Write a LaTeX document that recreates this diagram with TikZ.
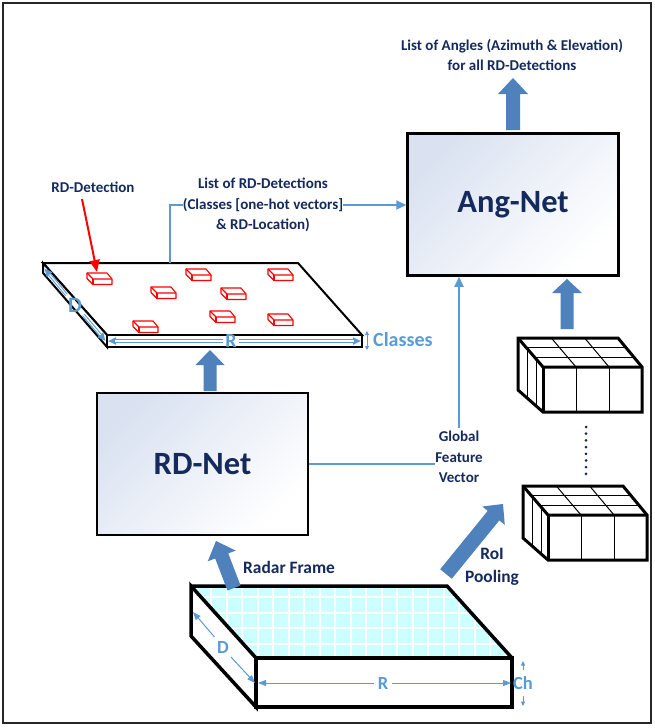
\documentclass[tikz,border=0pt]{standalone}
\usepackage{fontspec}
\setmainfont{Carlito}
\usetikzlibrary{arrows.meta,calc}
\definecolor{navy}{HTML}{142A5C}
\definecolor{blockblue}{HTML}{4F81BD}
\definecolor{lb}{HTML}{5B9BD5}
\definecolor{cyanfill}{HTML}{CCFFFF}
\definecolor{boxbg}{HTML}{DAE2F1}
% block arrow: tail, tip, half shaft, half head, head length
\newcommand\blockarr[5]{%
  \path ($(#2)!#5!(#1)$) coordinate (babase);
  \fill[blockblue]
    ($(#1)!#3!90:(#2)$) -- ($(babase)!#3!90:(#2)$) -- ($(babase)!#4!90:(#2)$)
    -- (#2) -- ($(babase)!#4!-90:(#2)$) -- ($(babase)!#3!-90:(#2)$)
    -- ($(#1)!#3!-90:(#2)$) -- cycle;}
\newcommand\featcube[2]{%
 \begin{scope}[shift={(#1,#2)}]
  \fill[white] (0,0) -- (100,0) -- (124,29) -- (124,74) -- (25,74) -- (0,52) -- cycle;
  \foreach \t in {0.3333,0.6667} {
    \draw[line width=1pt] (25*\t,29*\t) -- (100+24*\t,29*\t);
    \draw[line width=1pt] (100*\t,0) -- (25+99*\t,29);
    \draw[line width=1pt] (25+99*\t,29) -- (25+99*\t,74);
  }
  \foreach \t in {0.36,0.72} \draw[line width=1pt] (25*\t,29*\t) -- (25*\t,52+22*\t);
  \draw[line width=3pt] (0,0) -- (100,0) -- (124,29) -- (124,74) -- (25,74) -- (0,52) -- cycle;
  \draw[line width=3pt] (0,0) -- (25,29) -- (124,29);
  \draw[line width=3pt] (25,29) -- (25,74);
 \end{scope}}
\newcommand\redbox[2]{%
 \begin{scope}[shift={(#1,#2)}, color=red, line width=1.1pt, line join=round]
  \filldraw[fill=white] (0,0) -- (20,0) -- (25,6) -- (25,11.5) -- (6,11.5) -- (0,5.5) -- cycle;
  \draw (0,0) -- (6,6) -- (25,6);
  \draw (6,6) -- (6,11.5);
 \end{scope}}
\begin{document}
\begin{tikzpicture}[x=1pt,y=-1pt,
  netbox/.style={draw=black, line width=2.5pt, top color=boxbg, bottom color=white, shading angle=45, text=navy, font=\bfseries\fontsize{32.5}{36}\selectfont, inner sep=0pt},
  lbl/.style={text=navy, font=\bfseries\fontsize{15}{20.5}\selectfont, inner sep=0pt, align=center},
  biglbl/.style={text=navy, font=\bfseries\fontsize{17.4}{23}\selectfont, inner sep=0pt, align=center},
  dimlbl/.style={text=lb, font=\bfseries\fontsize{20}{22}\selectfont, inner sep=0pt},
  smalldim/.style={text=lb, font=\bfseries\fontsize{18.5}{20}\selectfont, inner sep=0pt},
  conn/.style={draw=lb, line width=2pt},
  connarrow/.style={conn, -{Triangle[width=9pt,length=10pt]}},
  dblblue/.style={draw=lb, line width=3.2pt},
  dblwhite/.style={draw=white, line width=1.1pt},
  thinarrow/.style={draw=lb, line width=1pt},
  slabline/.style={draw=black, line width=2pt},
  thickslab/.style={draw=black, line width=3.5pt},
]
\fill[white] (0,0) rectangle (654,728);
\useasboundingbox (0,0) rectangle (654,728);
\draw[line width=1.6pt, black!85] (3,3) rectangle (651,723);

% ---------- networks ----------
\node[netbox, minimum width=211pt, minimum height=142pt] (angnet) at (513,204.5) {Ang-Net};
\node[netbox, minimum width=211pt, minimum height=142pt] (rdnet) at (202.5,464) {RD-Net};

% ---------- labels ----------
\node[lbl] (angles) at (512,55) {List of Angles (Azimuth \& Elevation)\\for all RD-Detections};
\node[lbl] (rdlist) at (263,205) {List of RD-Detections\\(Classes [one-hot vectors]\\\& RD-Location)};
\node[lbl] (rddet) at (93,187) {RD-Detection};
\node[lbl] (gfv) at (459,457) {Global\\Feature\\Vector};
\node[biglbl, anchor=west] (rflabel) at (243,567) {Radar Frame};
\node[biglbl] (roi) at (492,566.5) {RoI\\Pooling};

% ---------- top slab (RD detections) ----------
\draw[slabline, fill=white] (43,263) -- (298,263) -- (362,335) -- (107,335) -- cycle;
\draw[slabline, fill=white] (43,263) -- (43,273) -- (107,347) -- (107,335) -- cycle;
\draw[slabline, fill=white] (107,335) -- (362,335) -- (362,347) -- (107,347) -- cycle;
\coordinate (slabtap) at (170,263);
\redbox{87}{273}
\redbox{186}{269}
\redbox{268}{269}
\redbox{151}{287}
\redbox{221}{288}
\redbox{210}{311}
\redbox{268}{314}
\redbox{133}{321}
% D on top slab
\draw[dblblue, {Triangle[width=7pt,length=8pt]}-] (44.5,268.5) -- (66.5,295);
\draw[dblwhite] (49.5,274.5) -- (66.5,295);
\draw[dblblue, -{Triangle[width=7pt,length=8pt]}] (83.5,315) -- (105.5,341);
\draw[dblwhite] (83.5,315) -- (100.5,335);
\node[dimlbl, font=\bfseries\fontsize{22}{24}\selectfont] (dtop) at (75,305) {D};
% R on top slab
\draw[dblblue, {Triangle[width=7pt,length=8pt]}-] (108,341) -- (223,341);
\draw[dblwhite] (115,341) -- (223,341);
\draw[dblblue, -{Triangle[width=7pt,length=8pt]}] (239,341) -- (361,341);
\draw[dblwhite] (239,341) -- (354,341);
\node[dimlbl] (rtop) at (231,341) {R};
% Classes
\node[dimlbl, anchor=west] (classes) at (373,340) {Classes};
\draw[thinarrow, {Triangle[width=4pt,length=4pt]}-{Triangle[width=4pt,length=4pt]}] (367,331) -- (367,350);

% red arrow
\coordinate (redstart) at (82,199);
\coordinate (redtip) at (97,272);
\draw[red, line width=2pt, -{Triangle[width=10pt,length=12pt]}] (redstart) -- (redtip);

% connectors
\draw[conn] (slabtap) |- (rdlist.west);
\draw[connarrow] (rdlist.east) -- (rdlist.east -| angnet.west);
\draw[conn] (rdnet.east) -- (rdnet.east -| gfv.west);
\draw[connarrow] (gfv.north) ++(0,-3) -- (gfv.north |- angnet.south);

% ---------- bottom slab (radar frame) ----------
\fill[cyanfill] (191,586) -- (447,586) -- (512,658) -- (256,658) -- cycle;
\begin{scope}
  \clip (191,586) -- (447,586) -- (512,658) -- (256,658) -- cycle;
  \foreach \i in {-6,...,16} \draw[white, line width=1.8pt] ({273.3+15.5*\i},580) -- ++(0,85);
  \foreach \i in {-1,...,4} \draw[white, line width=1.8pt] (180,{597.3+15.5*\i}) -- ++(340,0);
\end{scope}
\draw[thickslab, fill=white] (191,586) -- (256,658) -- (256,707) -- (191,636) -- cycle;
\draw[thickslab, fill=white] (256,658) -- (512,658) -- (512,707) -- (256,707) -- cycle;
\draw[thickslab] (191,586) -- (447,586) -- (512,658);
\node[smalldim] (dbot) at (223,647) {D};
\draw[thinarrow, {Triangle[width=6pt,length=8pt]}-] (193,612) -- (214.5,637);
\draw[thinarrow, -{Triangle[width=6pt,length=8pt]}] (231,657) -- (255,683);
\node[smalldim] (rbot) at (383,683) {R};
\draw[thinarrow, {Triangle[width=6pt,length=8pt]}-] (258,683) -- (374,683);
\draw[thinarrow, -{Triangle[width=6pt,length=8pt]}] (392,683) -- (511,683);
\node[smalldim] (ch) at (523,683) {Ch};
\draw[thinarrow, -{Triangle[width=4pt,length=4.5pt]}] (523,670) -- (523,661);
\draw[thinarrow, -{Triangle[width=4pt,length=4.5pt]}] (523,696) -- (523,706);

% ---------- feature cubes ----------
\featcube{518}{338}
\featcube{523}{486}
\coordinate (dotstop) at (586,427);
\coordinate (dotsbot) at (586,474);
\draw[navy, line width=3pt, line cap=round, dash pattern=on 0pt off 6.7pt] (dotstop) -- (dotsbot);

% ---------- block arrows ----------
\coordinate (angout) at (513,130);
\coordinate (angtip) at (513,78);
\blockarr{angout}{angtip}{7pt}{15pt}{16pt}
\coordinate (cubeout) at (567,329);
\coordinate (cubetip) at (567,279);
\blockarr{cubeout}{cubetip}{6.5pt}{15pt}{14pt}
\coordinate (rdout) at (210,391);
\coordinate (rdtip) at (210,350);
\blockarr{rdout}{rdtip}{6.5pt}{14.5pt}{15pt}
\coordinate (rfout) at (234,588);
\coordinate (rftip) at (216,541);
\blockarr{rfout}{rftip}{7pt}{15pt}{16pt}
\coordinate (roiout) at (446,574);
\coordinate (roitip) at (503,504);
\blockarr{roiout}{roitip}{7.5pt}{14.5pt}{15pt}
\end{tikzpicture}
\end{document}
